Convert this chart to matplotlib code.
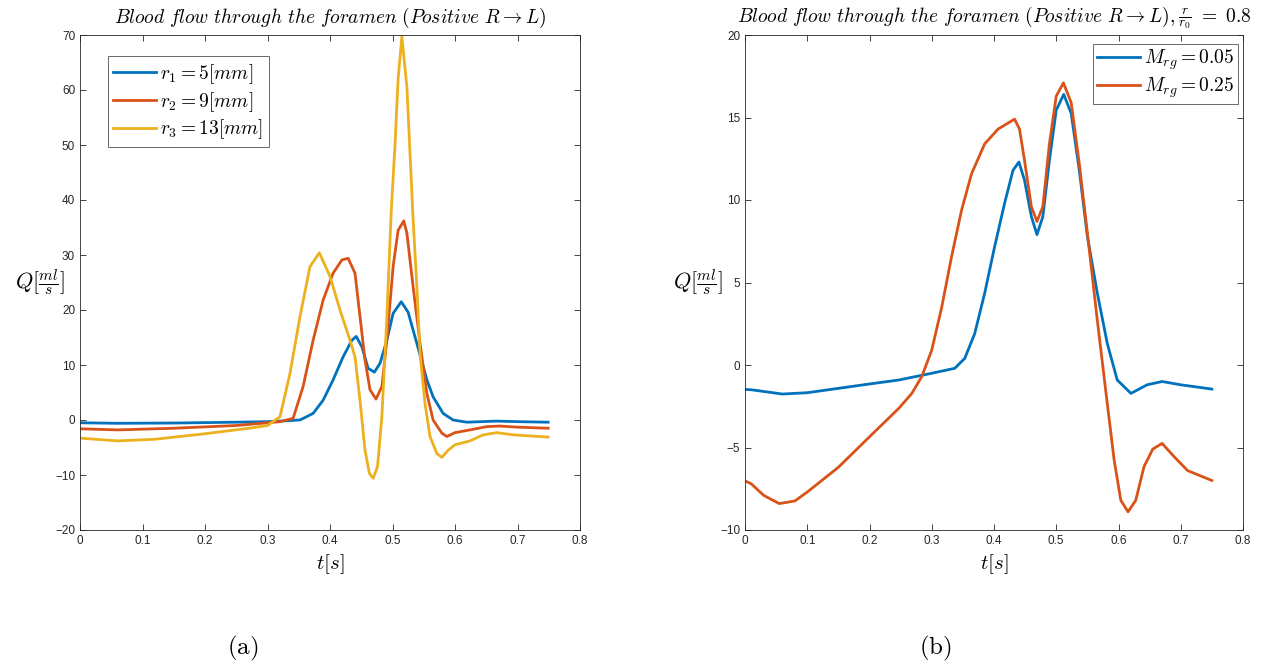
import matplotlib.pyplot as plt

plt.rcParams['mathtext.fontset'] = 'cm'
plt.rcParams['font.family'] = ['Liberation Sans', 'DejaVu Sans']

# ---- panel (a): three foramen radii ----
t_a1 = [0, 0.06, 0.15, 0.25, 0.3, 0.32, 0.352, 0.373, 0.389, 0.405, 0.421, 0.435, 0.442,
        0.451, 0.461, 0.471, 0.48, 0.491, 0.501, 0.514, 0.525, 0.539, 0.555, 0.565,
        0.581, 0.597, 0.619, 0.667, 0.7, 0.749]
q_a1 = [-0.5, -0.6, -0.55, -0.4, -0.3, -0.2, 0, 1.2, 3.6, 7.3, 11.5, 14.5, 15.2,
        13.3, 9.4, 8.7, 10.3, 14.5, 19.4, 21.5, 19.6, 13.9, 7.3, 4.2,
        1.2, 0, -0.4, -0.2, -0.3, -0.4]

t_a2 = [0, 0.06, 0.15, 0.25, 0.3, 0.32, 0.341, 0.357, 0.373, 0.389, 0.405, 0.419, 0.429,
        0.44, 0.448, 0.456, 0.464, 0.4736, 0.483, 0.491, 0.501, 0.509, 0.518, 0.523,
        0.533, 0.544, 0.555, 0.565, 0.579, 0.587, 0.6, 0.624, 0.651, 0.672, 0.7, 0.749]
q_a2 = [-1.6, -1.8, -1.5, -1.0, -0.5, -0.3, 0.3, 6.1, 14.5, 21.8, 26.7, 29.1, 29.4,
        26.7, 18.8, 10.9, 5.5, 3.8, 6.1, 14.5, 27.9, 34.5, 36.2, 34.0,
        24.2, 14, 4.8, 0, -2.4, -3.0, -2.3, -1.8, -1.2, -1.1, -1.3, -1.5]

t_a3 = [0, 0.06, 0.12, 0.2, 0.27, 0.3, 0.32, 0.336, 0.352, 0.368, 0.383, 0.4, 0.416,
        0.432, 0.44, 0.448, 0.456, 0.463, 0.469, 0.476, 0.483, 0.491, 0.498, 0.504,
        0.509, 0.515, 0.523, 0.528, 0.533, 0.539, 0.544, 0.552, 0.56, 0.571, 0.579,
        0.589, 0.6, 0.624, 0.645, 0.667, 0.693, 0.749]
q_a3 = [-3.3, -3.8, -3.5, -2.5, -1.5, -1.0, 0.6, 8.5, 18.8, 27.9, 30.4, 26.1, 20,
        14.5, 11.5, 3.6, -5.5, -9.7, -10.6, -8.5, 0.6, 18.8, 38, 50,
        62, 69.7, 60.6, 48.5, 36.4, 24.2, 12.1, 3, -3, -6.1, -6.8,
        -5.5, -4.5, -3.8, -2.7, -2.3, -2.7, -3.1]

labels_a = [r'$r_1 = 5[mm]$', r'$r_2 = 9[mm]$', r'$r_3 = 13[mm]$']

# ---- panel (b): two M_rg values ----
t_b1 = [0, 0.01, 0.06, 0.1, 0.2, 0.247, 0.3, 0.337, 0.353, 0.369, 0.385, 0.401, 0.417,
        0.4305, 0.44, 0.449, 0.46, 0.469, 0.4785, 0.489, 0.5, 0.512, 0.524, 0.537,
        0.55, 0.566, 0.582, 0.598, 0.62, 0.646, 0.67, 0.7, 0.75]
q_b1 = [-1.48, -1.5, -1.76, -1.68, -1.15, -0.91, -0.5, -0.2, 0.4, 1.9, 4.35, 7.17, 9.8,
        11.8, 12.3, 11.2, 9.0, 7.9, 9.0, 12.4, 15.45, 16.4, 15.25, 11.8,
        7.8, 4.35, 1.3, -0.91, -1.72, -1.2, -1.0, -1.2, -1.46]

t_b2 = [0, 0.01, 0.03, 0.055, 0.08, 0.1, 0.15, 0.2, 0.247, 0.268, 0.284, 0.3, 0.316,
        0.332, 0.348, 0.364, 0.385, 0.4066, 0.433, 0.441, 0.449, 0.46, 0.469, 0.4785,
        0.489, 0.5, 0.5115, 0.524, 0.537, 0.55, 0.566, 0.58, 0.593, 0.6037, 0.6154,
        0.6277, 0.641, 0.655, 0.67, 0.688, 0.711, 0.75]
q_b2 = [-7.02, -7.2, -7.9, -8.4, -8.24, -7.7, -6.2, -4.35, -2.63, -1.72, -0.7, 0.9, 3.5,
        6.6, 9.4, 11.6, 13.4, 14.3, 14.9, 14.3, 12.4, 9.6, 8.7, 9.6,
        13.4, 16.3, 17.1, 15.9, 12.2, 8.0, 2.7, -1.72, -5.76, -8.2, -8.9,
        -8.2, -6.16, -5.1, -4.75, -5.5, -6.4, -7.0]

labels_b = [r'$M_{rg} = 0.05$', r'$M_{rg} = 0.25$']

colors = ['#0072BD', '#D95319', '#EDB120']

fig = plt.figure(figsize=(12.81, 6.69), dpi=100)
ax1 = fig.add_axes([80 / 1281, 139 / 669, 500 / 1281, 495 / 669])
ax2 = fig.add_axes([745 / 1281, 139 / 669, 498 / 1281, 495 / 669])

for t, q, c, lab in zip([t_a1, t_a2, t_a3], [q_a1, q_a2, q_a3], colors, labels_a):
    ax1.plot(t, q, color=c, lw=2, label=lab, solid_joinstyle='round')
for t, q, c, lab in zip([t_b1, t_b2], [q_b1, q_b2], colors, labels_b):
    ax2.plot(t, q, color=c, lw=2, label=lab, solid_joinstyle='round')

ax1.set_xlim(0, 0.8)
ax1.set_ylim(-20, 70)
ax2.set_xlim(0, 0.8)
ax2.set_ylim(-10, 20)

for ax in (ax1, ax2):
    ax.set_xticks([0, 0.1, 0.2, 0.3, 0.4, 0.5, 0.6, 0.7, 0.8])
    ax.set_xticklabels(['0', '0.1', '0.2', '0.3', '0.4', '0.5', '0.6', '0.7', '0.8'])
    ax.tick_params(direction='in', top=True, right=True, labelsize=8.5,
                   colors='#262626', length=4, width=0.6)
    for s in ax.spines.values():
        s.set_color('#262626')
        s.set_linewidth(0.6)
    ax.set_xlabel(r'$t[s]$', fontsize=15)
    ax.xaxis.set_label_coords(0.5, -0.045)
    ax.set_ylabel(r'$Q[\frac{ml}{s}]$', fontsize=16, rotation=0, va='center', ha='center')

ax1.set_yticks(range(-20, 71, 10))
ax2.set_yticks(range(-10, 21, 5))
ax1.yaxis.set_label_coords(-0.08, 0.5)
ax2.yaxis.set_label_coords(-0.094, 0.5)

ax1.set_title(r'$Blood\ flow\ through\ the\ foramen\ (Positive\ R \rightarrow L)$',
              fontsize=14, pad=9)
ax2.set_title(r'$Blood\ flow\ through\ the\ foramen\ (Positive\ R \rightarrow L),\frac{r}{r_0}\ =\ 0.8$',
              fontsize=14, pad=9)

leg1 = ax1.legend(loc='upper left', bbox_to_anchor=(0.055, 0.957), fontsize=14,
                  fancybox=False, edgecolor='#262626', handlelength=2.2,
                  handletextpad=0.2, borderpad=0.3, labelspacing=0.2, borderaxespad=0)
leg1.get_frame().set_linewidth(0.6)
leg2 = ax2.legend(loc='upper right', bbox_to_anchor=(0.99, 0.982), fontsize=14,
                  fancybox=False, edgecolor='#262626', handlelength=2.2,
                  handletextpad=0.2, borderpad=0.2, labelspacing=0.15, borderaxespad=0)
leg2.get_frame().set_linewidth(0.6)

fig.text(243 / 1281, 1 - 648 / 669, r'$\mathrm{(a)}$', fontsize=18, ha='center', va='center')
fig.text(935 / 1281, 1 - 648 / 669, r'$\mathrm{(b)}$', fontsize=18, ha='center', va='center')

fig.savefig('out.png', dpi=100)
